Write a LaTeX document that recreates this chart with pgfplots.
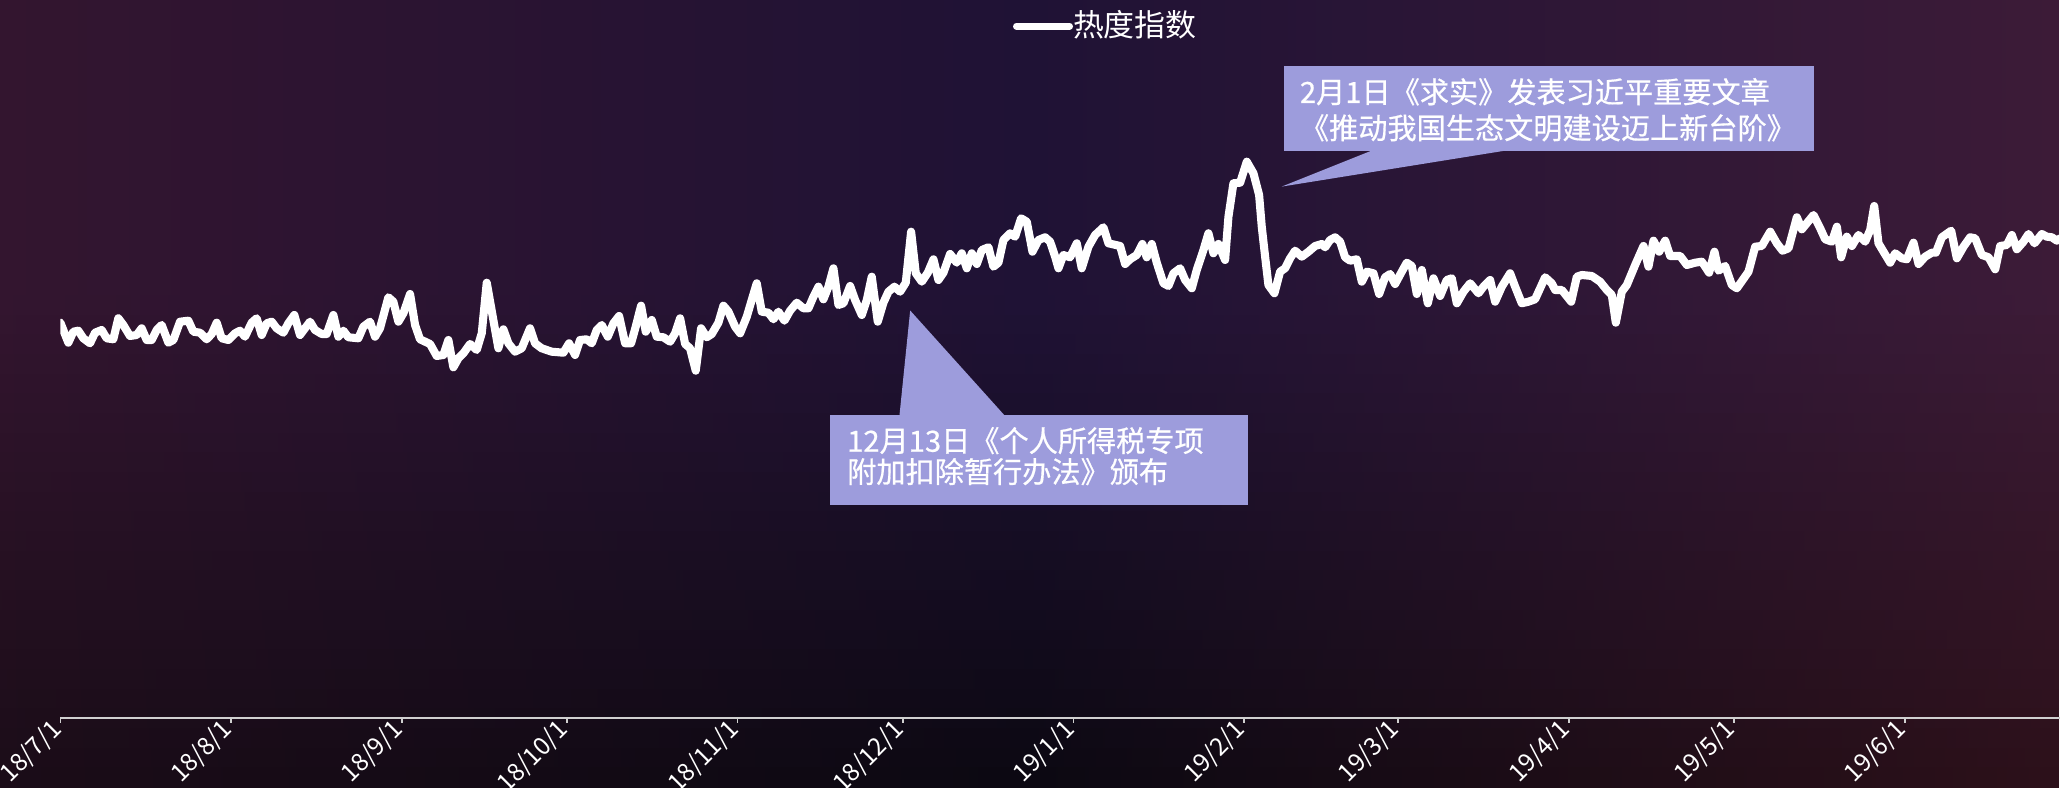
\documentclass[border=0pt]{standalone}
\usepackage{fontspec}
\setmainfont{Noto Sans CJK SC}
\newfontfamily\calloutfont{Noto Sans CJK SC}[FakeBold=0.6]
\usepackage{pgfplots}
\usepackage{pgfplotstable}
\pgfplotsset{compat=1.18}
\definecolor{TL}{HTML}{33152F}
\definecolor{TM}{HTML}{1F1235}
\definecolor{TR}{HTML}{3C1B37}
\definecolor{BL}{HTML}{1A0C17}
\definecolor{BM}{HTML}{0B0811}
\definecolor{BR}{HTML}{2C1019}
\definecolor{calloutbg}{HTML}{9D9CDC}
\definecolor{axisgray}{HTML}{D0D0D0}

\pgfplotstableread{
x y
0 395.3
1.44 375.3
2.35 386.3
3.26 387.3
4.17 379.7
5.38 374.7
6.29 385.3
7.50 388
8.40 379.7
9.61 378.7
10.52 399.7
11.43 393
12.64 382
13.85 383
14.76 389.7
15.67 378
16.58 378
17.49 388
18.40 393
19.61 375.3
20.52 378
21.73 396.3
23.24 397.3
24.15 386.3
25.36 385.3
26.57 378.7
27.48 384
28.39 395.3
29.29 379.7
30.50 378
31.72 384.7
32.62 387.3
33.53 381.3
34.74 395.3
35.65 399.7
36.56 383
37.47 394.7
38.38 396.3
39.28 389.7
40.50 385.3
41.40 394.7
42.49 403
43.52 383
44.43 389.7
45.34 396.3
46.25 388
47.46 384
48.37 384
49.58 403
50.49 381.3
51.40 387.3
52.30 380.7
54.12 379.7
55.03 391.3
56.24 396.3
57.15 381.3
58.05 389.7
59.57 420.7
60.48 416.3
61.39 396.3
62.30 404.7
63.51 424
64.42 393
65.32 378.7
67.14 374
68.35 362
69.56 363
70.47 378
71.38 350.7
72.29 359.7
73.20 364.7
74.41 374
75.62 368
76.53 384.7
77.44 435.3
78.64 398
79.55 369.7
80.46 388.7
81.37 374.7
82.58 366.3
83.79 369.7
85.30 389.7
86.21 374.7
87.42 369.7
89.24 366.3
91.36 365.3
92.39 374.7
93.48 363
94.39 378
95.60 378.7
96.51 374.7
97.42 388
98.33 393
99.42 381.3
100.45 394.7
101.48 402
102.57 374.7
103.66 374.7
104.50 391.3
105.47 412.3
106.32 386.3
107.41 398
108.32 381.3
109.53 380.7
110.74 376.3
111.65 384.7
112.56 399.7
113.47 374
114.37 369.7
115.40 347.3
116.37 389.7
117.40 380.7
118.31 384
119.52 395.3
120.43 412.3
121.34 406.3
122.55 391.3
123.46 384.7
124.67 401.3
125.57 418
126.48 434.7
127.39 406.3
128.60 405.3
129.51 398.7
130.42 406.3
131.51 397.3
132.54 407.3
133.75 415.3
134.96 409.7
135.87 409.7
136.78 421.3
137.69 431.3
138.59 418.7
139.50 431.3
140.41 449.7
141.32 413
142.23 414.7
143.44 432
144.35 418
145.56 403
146.47 418
147.37 441.3
148.46 396.3
149.49 415.3
150.40 426.3
151.49 431.3
152.52 426.3
153.55 435.3
154.52 486.3
155.37 444.7
156.46 436.3
157.55 445.3
158.58 458.7
159.48 438
160.39 445.3
161.60 464
162.81 455.3
163.72 464.7
164.63 449.7
165.54 464.7
166.45 454
167.36 468
168.57 470.7
169.47 451.3
170.38 455.3
171.29 478
172.50 484.7
173.41 481.3
174.50 499.7
175.53 496.3
176.56 466.3
177.65 478
178.86 480.7
179.77 476.3
180.68 461.3
181.28 449.7
182.18 463
183.39 460.7
184.61 474.7
185.51 449.7
186.73 471.3
187.94 483
189.45 490.7
190.36 474.7
192.48 472
193.39 454
194.29 458.7
195.50 463
196.53 474
197.32 460.7
198.23 474
199.14 455.3
200.35 434.7
201.26 432
202.17 444.7
203.38 449.7
204.29 438
205.50 429.7
206.40 448
207.62 468
208.52 484.7
209.43 464.7
210.34 474
211.55 458
212.16 501.3
213.06 534.7
214.28 535.3
215.49 556.3
216.70 544.7
217.73 523
218.21 491.3
218.82 461.3
219.42 433
220.51 424.7
221.54 446.3
222.45 449.7
223.36 459.7
224.27 467.3
225.48 461.3
226.69 466.3
227.90 472
229.11 474
229.72 470.7
230.62 478
231.53 480.7
232.44 476.3
233.35 460.7
234.26 457.3
235.47 458.7
236.38 436.3
237.29 446.3
238.50 444.7
239.53 424
240.61 440.7
241.52 444
242.43 434
243.64 446.3
244.55 455.3
245.46 452
246.37 424
247.28 448
248.37 414.7
249.40 439.7
250.61 422
251.82 438
252.73 439.7
253.64 414.7
254.85 426.3
256.06 434.7
257.57 424.7
258.48 431.3
259.69 438
260.60 416.3
261.81 431.3
263.32 444.7
264.23 431.3
265.44 414.7
266.65 416.3
267.86 418.7
269.68 440.7
270.88 434.7
271.50 428
272.71 428
274.41 416.3
275.44 441.3
276.34 443
278.16 442
279.67 436.3
280.89 428
281.79 423
282.52 395.3
283.61 426.3
284.52 433
286.03 453
287.55 472
288.45 451.3
289.36 477.3
290.39 466.3
291.48 477.3
292.39 462
294.21 462
295.42 453
296.93 455.3
298.14 456.3
299.47 445.3
300.44 466.3
301.17 447.3
302.38 452
303.59 433
304.50 429.7
306.62 446.3
307.83 471.3
309.04 472
310.56 486.3
311.77 474.7
312.80 467.3
313.89 469.7
315.40 500.7
316.31 488.7
318.43 503
319.64 489.7
320.55 478.7
321.76 476.3
322.67 491.3
323.45 460.7
324.48 481.3
325.39 472
326.60 483
327.81 476.3
328.72 488
329.45 512
330.23 474.7
331.14 466.3
332.35 455.3
333.26 464.7
334.47 459.7
335.38 458.7
336.59 475.3
337.50 454
338.71 461.3
339.92 465.3
340.65 465.3
341.74 480.7
343.43 487.3
344.46 459.7
345.67 471.3
346.88 480.7
347.79 479.7
349.00 463
350.22 460.7
351.43 448.7
352.33 472
353.54 473
354.45 483
355.36 468.7
356.57 476.3
357.48 484
358.57 474.7
359.90 484
360.81 481.3
361.72 480.7
362.63 477.3
363.24 479.7
364.00 479
}\heat

\begin{document}
\begin{tikzpicture}
\path[use as bounding box] (0,0) rectangle (20.6cm,7.88cm);
\begin{scope}[x=0.01cm,y=-0.01cm,shift={(0,7.88cm)}]
  \foreach \i in {0,...,39}{
    \pgfmathsetmacro\ya{\i*19.7}
    \pgfmathsetmacro\yb{\ya+21}
    \pgfmathtruncatemacro\p{max(0,min(100,(\ya+9.85-300)/(788-300)*100))}
    \colorlet{cL}{BL!\p!TL}\colorlet{cM}{BM!\p!TM}\colorlet{cR}{BR!\p!TR}
    \shade[left color=cL, right color=cR, middle color=cM] (0,\ya) rectangle (2060,\yb);
  }
\end{scope}

\begin{axis}[
  at={(0.604cm,0.70cm)}, anchor=south west,
  scale only axis, width=19.996cm, height=7.18cm,
  xmin=0, xmax=363.2, ymin=0, ymax=718,
  axis x line=bottom, axis y line=none,
  x axis line style={draw=axisgray, line width=0.5pt, -},
  xtick={0,31,62,92,123,153,184,215,243,274,304,335},
  xticklabels={18/7/1,18/8/1,18/9/1,18/10/1,18/11/1,18/12/1,19/1/1,19/2/1,19/3/1,19/4/1,19/5/1,19/6/1},
  tick align=outside, major tick length=0.05cm,
  x tick style={draw=axisgray, line width=0.5pt},
  xticklabel style={rotate=45, anchor=east, font=\fontsize{7}{8}\selectfont, text=white, inner sep=1pt},
  ytick=\empty,
  legend style={at={(rel axis cs:0.4764,0.9635)}, anchor=west, draw=none, fill=none,
    text=white, font=\fontsize{8.8}{10}\selectfont, inner sep=0pt, outer sep=0pt},
  legend image code/.code={\draw[white, line width=2pt, line cap=round] (0cm,0cm) -- (0.53cm,0cm);},
]
\addplot[white, line width=2.3pt, line join=round, line cap=round] table[x=x, y=y] {\heat};
\addlegendentry{\hspace*{-2pt}热度指数}
\end{axis}

\begin{scope}[x=0.01cm,y=-0.01cm,shift={(0,7.88cm)}]
  \fill[calloutbg] (830,415) rectangle (1249,505);
  \fill[calloutbg] (900,415.5) -- (910.7,310.7) -- (1005,415.5) -- cycle;
  \node[anchor=base west, inner sep=0pt, text=white, font=\calloutfont\fontsize{8.3}{9}\selectfont] at (847,452) {12月13日《个人所得税专项};
  \node[anchor=base west, inner sep=0pt, text=white, font=\calloutfont\fontsize{8.3}{9}\selectfont] at (847,483) {附加扣除暂行办法》颁布};
  \fill[calloutbg] (1285,66) rectangle (1815,151.5);
  \fill[calloutbg] (1371.7,151) -- (1282.5,186.7) -- (1504.5,151) -- cycle;
  \node[anchor=base west, inner sep=0pt, text=white, font=\calloutfont\fontsize{8.3}{9}\selectfont] at (1300,103) {2月1日《求实》发表习近平重要文章};
  \node[anchor=base west, inner sep=0pt, text=white, font=\calloutfont\fontsize{8.3}{9}\selectfont] at (1300,139) {《推动我国生态文明建设迈上新台阶》};
\end{scope}
\end{tikzpicture}
\end{document}
